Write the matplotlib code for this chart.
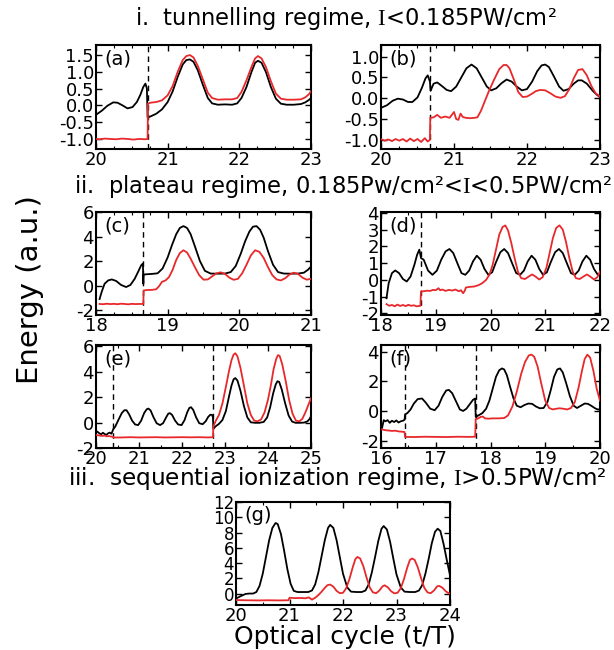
import matplotlib
matplotlib.use("Agg")
import matplotlib.pyplot as plt
from matplotlib.ticker import MultipleLocator, FormatStrFormatter

plt.rcParams['font.family'] = ['DejaVu Sans']
plt.rcParams['mathtext.fontset'] = 'custom'
plt.rcParams['mathtext.rm'] = 'Liberation Serif'
plt.rcParams['axes.unicode_minus'] = False

# ---------------- data ----------------
# (a)
a_xb = [20.00,20.08,20.16,20.24,20.30,20.37,20.44,20.51,20.57,20.62,20.66,20.69,20.71,20.72,20.76,20.84,20.92,21.00,21.07,21.14,
        21.21,21.26,21.31,21.36,21.42,21.49,21.56,21.62,21.70,21.80,21.90,21.97,22.03,22.10,22.17,22.22,22.26,22.31,22.37,22.44,
        22.51,22.58,22.66,22.76,22.86,22.92,22.97,23.00]
a_yb = [-0.28,-0.16,-0.01,0.09,0.08,0.00,-0.09,-0.05,0.10,0.32,0.55,0.65,0.50,-0.36,-0.33,-0.25,-0.12,0.10,0.42,0.85,
        1.22,1.35,1.37,1.30,1.05,0.62,0.22,0.06,0.02,0.03,0.02,0.06,0.22,0.55,1.00,1.27,1.33,1.27,1.00,0.55,
        0.20,0.05,0.02,0.02,0.04,0.09,0.16,0.22]
a_xr = [20.00,20.05,20.12,20.20,20.28,20.36,20.44,20.52,20.60,20.68,20.72,20.725,20.76,20.84,20.92,21.00,21.07,21.14,21.21,21.26,
        21.31,21.36,21.42,21.49,21.56,21.62,21.70,21.80,21.90,21.97,22.03,22.10,22.17,22.22,22.26,22.31,22.37,22.44,22.51,22.58,
        22.66,22.76,22.86,22.92,22.97,23.00]
a_yr = [-1.00,-1.01,-0.99,-1.00,-1.01,-0.99,-1.00,-1.02,-1.00,-1.01,-1.00,0.05,0.08,0.10,0.15,0.30,0.58,1.00,1.35,1.47,
        1.50,1.43,1.18,0.78,0.38,0.22,0.17,0.18,0.18,0.22,0.40,0.75,1.15,1.40,1.47,1.40,1.15,0.72,0.35,0.20,
        0.17,0.17,0.18,0.24,0.33,0.42]
# (b)
b_xb = [20.00,20.08,20.16,20.23,20.30,20.37,20.43,20.50,20.56,20.61,20.64,20.67,20.68,20.72,20.77,20.83,20.90,20.96,21.03,21.10,
        21.17,21.24,21.31,21.38,21.45,21.51,21.58,21.65,21.72,21.79,21.86,21.93,22.00,22.07,22.14,22.20,22.25,22.30,22.37,22.44,
        22.50,22.57,22.64,22.70,22.75,22.82,22.90,22.96,23.00]
b_yb = [-0.23,-0.17,-0.06,-0.01,-0.03,-0.09,-0.09,0.02,0.25,0.48,0.55,0.40,0.18,0.35,0.38,0.30,0.20,0.17,0.28,0.50,
        0.72,0.81,0.72,0.50,0.28,0.19,0.24,0.36,0.45,0.40,0.28,0.19,0.22,0.40,0.65,0.79,0.81,0.75,0.52,0.28,
        0.18,0.22,0.35,0.43,0.43,0.35,0.18,0.08,0.03]
b_xr = [20.00,20.05,20.10,20.15,20.20,20.25,20.30,20.35,20.40,20.45,20.50,20.55,20.60,20.64,20.67,20.675,20.72,20.77,20.82,20.88,
        20.94,21.00,21.03,21.06,21.09,21.12,21.16,21.22,21.28,21.32,21.37,21.42,21.48,21.55,21.62,21.68,21.72,21.76,21.82,21.88,
        21.94,22.00,22.06,22.12,22.18,22.25,22.32,22.39,22.46,22.52,22.58,22.64,22.70,22.76,22.82,22.88,22.94,23.00]
b_yr = [-0.98,-1.02,-0.99,-1.03,-0.98,-1.02,-0.98,-1.04,-0.97,-1.03,-0.98,-1.05,-0.96,-1.04,-1.00,-0.47,-0.46,-0.40,-0.47,-0.44,
        -0.47,-0.33,-0.50,-0.52,-0.37,-0.45,-0.47,-0.48,-0.47,-0.46,-0.30,-0.08,0.18,0.45,0.70,0.80,0.80,0.72,0.45,0.15,
        0.03,0.04,0.10,0.17,0.20,0.19,0.12,0.04,0.01,0.05,0.22,0.48,0.68,0.70,0.55,0.30,0.12,0.04]
# (c)
c_xb = [18.05,18.08,18.12,18.17,18.22,18.28,18.35,18.42,18.48,18.54,18.59,18.63,18.655,18.66,18.665,18.70,18.78,18.86,18.93,19.00,
        19.06,19.12,19.17,19.22,19.27,19.32,19.38,19.45,19.52,19.60,19.70,19.80,19.88,19.95,20.02,20.08,20.14,20.19,20.24,20.29,
        20.34,20.40,20.47,20.54,20.62,20.72,20.82,20.90,20.96,21.00]
c_yb = [-1.1,-0.5,0.15,0.42,0.50,0.38,0.05,-0.12,0.05,0.55,1.15,1.65,1.80,0.15,0.90,0.92,0.95,1.00,1.40,2.30,
        3.30,4.20,4.70,4.85,4.70,4.20,3.20,2.00,1.20,0.98,0.97,0.98,1.10,1.60,2.60,3.60,4.40,4.80,4.85,4.55,
        3.90,2.80,1.70,1.10,0.98,0.97,0.98,1.05,1.30,1.55]
c_xr = [18.05,18.10,18.15,18.20,18.25,18.30,18.35,18.40,18.45,18.50,18.55,18.60,18.66,18.665,18.72,18.78,18.84,18.88,18.92,18.97,
        19.02,19.07,19.12,19.17,19.22,19.27,19.32,19.38,19.44,19.50,19.56,19.62,19.68,19.74,19.80,19.86,19.92,19.98,20.04,20.10,
        20.16,20.22,20.28,20.34,20.40,20.46,20.52,20.58,20.64,20.70,20.76,20.82,20.88,20.94,21.00]
c_yr = [-1.50,-1.52,-1.48,-1.51,-1.49,-1.52,-1.48,-1.50,-1.53,-1.49,-1.51,-1.50,-1.50,-0.40,-0.36,-0.35,-0.30,-0.05,0.30,0.42,
        0.70,1.30,2.10,2.65,2.88,2.70,2.20,1.50,0.85,0.48,0.50,0.75,1.00,1.08,0.95,0.65,0.47,0.55,1.00,1.70,
        2.45,2.88,2.75,2.25,1.50,0.85,0.50,0.42,0.60,0.90,1.05,0.95,0.65,0.48,0.55]
# (d)
d_xb = [18.10,18.14,18.20,18.26,18.33,18.40,18.47,18.54,18.61,18.66,18.70,18.725,18.73,18.78,18.86,18.94,19.02,19.10,19.18,19.25,
        19.32,19.40,19.47,19.54,19.61,19.68,19.75,19.82,19.89,19.96,20.03,20.10,20.18,20.25,20.32,20.40,20.47,20.54,20.61,20.68,
        20.75,20.82,20.89,20.96,21.03,21.10,21.18,21.25,21.32,21.40,21.47,21.54,21.61,21.68,21.75,21.82,21.89,21.96,22.00]
d_yb = [-1.10,-0.20,0.40,0.56,0.40,0.05,-0.10,0.20,0.90,1.50,1.80,1.40,1.30,1.20,0.55,0.30,0.55,1.20,1.70,1.84,
        1.60,0.95,0.40,0.30,0.55,1.10,1.44,1.20,0.65,0.30,0.45,1.05,1.65,1.84,1.60,0.95,0.40,0.30,0.55,1.10,
        1.44,1.20,0.65,0.30,0.45,1.05,1.65,1.84,1.60,0.95,0.40,0.30,0.55,1.10,1.44,1.20,0.65,0.30,0.25]
d_xr = [18.10,18.15,18.20,18.25,18.30,18.35,18.40,18.45,18.50,18.55,18.60,18.65,18.72,18.73,18.78,18.84,18.90,18.95,19.00,19.05,
        19.08,19.12,19.18,19.24,19.30,19.36,19.42,19.46,19.50,19.53,19.55,19.62,19.70,19.78,19.85,19.92,19.98,20.04,20.10,20.16,
        20.22,20.27,20.32,20.38,20.44,20.50,20.56,20.63,20.70,20.76,20.82,20.89,20.95,21.02,21.08,21.14,21.20,21.26,21.32,21.38,
        21.44,21.50,21.56,21.63,21.70,21.76,21.82,21.89,21.95,22.00]
d_yr = [-1.45,-1.55,-1.50,-1.58,-1.48,-1.56,-1.50,-1.57,-1.49,-1.55,-1.52,-1.58,-1.55,-0.70,-0.68,-0.65,-0.66,-0.60,-0.62,-0.50,
        -0.62,-0.58,-0.66,-0.60,-0.64,-0.58,-0.68,-0.62,-0.80,-0.65,-0.46,-0.42,-0.40,-0.32,-0.20,0.00,0.30,0.90,1.80,2.70,
        3.15,3.25,2.95,2.20,1.30,0.50,0.10,0.05,0.20,0.32,0.20,0.02,0.15,0.70,1.60,2.50,3.10,3.25,3.00,2.25,
        1.30,0.50,0.10,0.05,0.20,0.32,0.20,0.02,0.15,0.50]
# (e)
e_xb = [20.00,20.04,20.08,20.12,20.16,20.20,20.24,20.28,20.32,20.36,20.40,20.45,20.52,20.60,20.66,20.71,20.77,20.84,20.91,20.98,
        21.05,21.12,21.18,21.22,21.27,21.34,21.41,21.49,21.56,21.63,21.68,21.72,21.77,21.84,21.91,21.99,22.06,22.12,22.17,22.21,
        22.26,22.33,22.40,22.48,22.55,22.61,22.66,22.70,22.72,22.73,22.78,22.86,22.94,23.02,23.09,23.15,23.20,23.24,23.29,23.36,
        23.44,23.52,23.60,23.70,23.80,23.90,23.98,24.05,24.12,24.18,24.22,24.26,24.32,24.40,24.48,24.56,24.64,24.74,24.84,24.92,
        24.97,25.00]
e_yb = [-0.66,-0.74,-0.85,-0.92,-0.80,-0.90,-0.97,-0.85,-0.79,-0.88,-0.53,-0.30,0.20,0.75,0.97,0.97,0.65,0.15,-0.15,-0.20,
        0.15,0.75,1.05,1.10,0.95,0.40,-0.05,-0.20,-0.05,0.40,0.70,0.74,0.60,0.15,-0.15,-0.20,0.20,0.80,1.15,1.21,
        1.00,0.40,-0.05,-0.13,0.10,0.45,0.62,0.60,0.40,-0.50,-0.30,-0.10,0.20,0.90,2.00,2.90,3.40,3.50,3.30,2.50,
        1.30,0.40,0.02,-0.02,-0.02,0.05,0.40,1.20,2.30,3.00,3.25,3.20,2.60,1.50,0.55,0.08,-0.02,-0.02,0.00,0.10,
        0.30,0.50]
e_xr = [20.00,20.05,20.10,20.15,20.20,20.25,20.30,20.35,20.40,20.41,20.60,20.80,21.00,21.20,21.40,21.60,21.80,22.00,22.20,22.40,
        22.60,22.72,22.73,22.78,22.86,22.94,23.02,23.09,23.15,23.20,23.24,23.29,23.36,23.44,23.52,23.60,23.68,23.76,23.84,23.92,
        24.00,24.07,24.13,24.19,24.23,24.27,24.33,24.41,24.49,24.57,24.65,24.73,24.80,24.87,24.94,25.00]
e_yr = [-0.98,-1.00,-1.03,-1.05,-1.02,-1.08,-1.06,-1.10,-1.12,-1.18,-1.17,-1.15,-1.17,-1.16,-1.15,-1.17,-1.16,-1.15,-1.16,-1.15,
        -1.17,-1.15,-0.30,0.10,0.60,1.50,2.80,4.00,4.90,5.35,5.45,5.20,4.30,2.90,1.50,0.60,0.15,0.10,0.25,0.80,
        1.80,3.00,4.20,5.00,5.30,5.25,4.60,3.30,1.80,0.70,0.15,0.10,0.30,0.80,1.40,1.90]
# (f)
f_xb = [16.02,16.05,16.08,16.12,16.16,16.20,16.24,16.28,16.32,16.36,16.40,16.43,16.44,16.48,16.54,16.60,16.67,16.75,16.82,16.90,
        16.98,17.05,17.12,17.19,17.24,17.30,17.37,17.44,17.50,17.56,17.62,17.68,17.72,17.73,17.78,17.85,17.92,17.98,18.04,18.10,
        18.16,18.21,18.25,18.30,18.36,18.42,18.48,18.55,18.62,18.69,18.76,18.83,18.90,18.97,19.04,19.10,19.16,19.22,19.27,19.32,
        19.38,19.45,19.52,19.58,19.65,19.72,19.78,19.84,19.91,19.96,20.00]
f_yb = [-1.13,-0.62,-0.70,-0.62,-0.80,-0.66,-0.75,-0.64,-0.78,-0.70,-0.66,-0.60,-0.23,-0.15,0.10,0.50,0.80,0.84,0.55,0.15,
        0.05,0.35,0.95,1.38,1.42,1.20,0.65,0.10,0.00,0.15,0.45,0.75,0.84,-0.40,-0.30,-0.15,0.15,0.70,1.50,2.30,
        2.75,2.87,2.80,2.40,1.60,0.85,0.35,0.25,0.40,0.50,0.48,0.30,0.18,0.20,0.60,1.40,2.30,2.80,2.87,2.60,
        1.90,1.00,0.35,0.20,0.35,0.50,0.48,0.35,0.18,0.10,0.10]
f_xr = [16.02,16.08,16.14,16.20,16.26,16.32,16.38,16.43,16.44,16.60,16.80,17.00,17.20,17.40,17.60,17.72,17.73,17.78,17.82,17.86,
        17.90,17.96,18.05,18.15,18.25,18.32,18.40,18.48,18.56,18.63,18.70,18.75,18.80,18.86,18.93,19.00,19.07,19.14,19.20,19.26,
        19.33,19.40,19.47,19.54,19.61,19.67,19.72,19.77,19.82,19.88,19.94,20.00]
f_yr = [-1.25,-1.30,-1.32,-1.35,-1.33,-1.38,-1.40,-1.42,-1.75,-1.76,-1.74,-1.75,-1.76,-1.74,-1.75,-1.74,-0.55,-0.50,-0.40,-0.38,
        -0.50,-0.52,-0.50,-0.50,-0.48,-0.30,0.30,1.30,2.50,3.30,3.75,3.80,3.65,3.00,1.80,0.70,0.20,0.10,0.15,0.18,
        0.15,0.10,0.20,0.60,1.60,2.70,3.50,3.80,3.60,2.70,1.50,0.70]
# (g)
g_xb = [20.00,20.10,20.18,20.25,20.32,20.38,20.44,20.50,20.56,20.62,20.68,20.74,20.78,20.84,20.90,20.96,21.02,21.08,21.15,21.25,
        21.35,21.42,21.48,21.54,21.60,21.66,21.72,21.76,21.82,21.88,21.94,22.00,22.08,22.15,22.25,22.35,22.42,22.48,22.54,22.60,
        22.66,22.72,22.76,22.82,22.88,22.94,23.00,23.08,23.15,23.25,23.35,23.42,23.48,23.54,23.60,23.66,23.72,23.77,23.82,23.88,
        23.94,24.00]
g_yb = [-0.65,-0.30,-0.05,0.00,0.00,0.20,1.00,2.60,4.80,7.00,8.60,9.25,9.10,7.80,5.60,3.20,1.30,0.35,0.20,0.20,
        0.20,0.40,1.20,2.80,4.90,7.00,8.60,9.00,8.60,7.00,4.80,2.60,0.80,0.25,0.20,0.20,0.40,1.20,2.80,4.80,
        6.90,8.50,8.85,8.40,6.80,4.60,2.50,0.80,0.25,0.20,0.20,0.40,1.10,2.60,4.50,6.60,8.10,8.50,8.20,6.50,
        4.40,2.40]
g_xr = [20.00,20.20,20.40,20.60,20.80,20.98,21.00,21.10,21.20,21.30,21.36,21.42,21.48,21.54,21.60,21.66,21.71,21.76,21.82,21.88,
        21.94,22.00,22.06,22.12,22.18,22.23,22.27,22.32,22.38,22.44,22.50,22.56,22.62,22.68,22.74,22.78,22.84,22.90,22.96,23.02,
        23.08,23.14,23.20,23.25,23.29,23.34,23.40,23.46,23.52,23.58,23.64,23.70,23.76,23.80,23.86,23.92,23.98,24.00]
g_yr = [-0.85,-0.88,-0.90,-0.88,-0.90,-0.88,-0.55,-0.60,-0.58,-0.62,-0.50,-0.80,-0.55,-0.20,0.25,0.75,1.10,1.18,0.90,0.35,
        0.05,0.10,0.70,1.90,3.40,4.50,4.80,4.60,3.60,2.10,0.80,0.15,0.05,0.40,0.95,1.08,0.80,0.30,0.02,0.10,
        0.70,1.90,3.40,4.40,4.60,4.40,3.40,2.00,0.75,0.15,0.05,0.40,0.95,1.00,0.75,0.30,0.02,0.00]

panel_labels = ['(a)', '(b)', '(c)', '(d)', '(e)', '(f)', '(g)']
dashed_x = [[20.72], [20.675], [18.66], [18.73], [20.40, 22.73], [16.44, 17.735], []]
xlims = [(20, 23), (20, 23), (18, 21), (18, 22), (20, 25), (16, 20), (20, 24)]
ylims = [(-1.3, 1.8), (-1.22, 1.28), (-2.4, 6.0), (-2.1, 4.05), (-2.0, 6.1), (-2.5, 4.45), (-1.5, 12.0)]
ymajor = [0.5, 0.5, 2, 1, 2, 2, 2]
yfmt = ['%.1f', '%.1f', '%d', '%d', '%d', '%d', '%d']
xminor = [0.25, 0.25, 0.25, 0.5, 0.5, 0.5, 0.5]
titles = ['i.  tunnelling regime, $\\mathrm{I}$<0.185PW/cm\u00b2',
          'ii.  plateau regime, 0.185Pw/cm\u00b2<$\\mathrm{I}$<0.5PW/cm\u00b2',
          'iii.  sequential ionization regime, $\\mathrm{I}$>0.5PW/cm\u00b2']

curves = [(a_xb, a_yb, a_xr, a_yr), (b_xb, b_yb, b_xr, b_yr), (c_xb, c_yb, c_xr, c_yr),
          (d_xb, d_yb, d_xr, d_yr), (e_xb, e_yb, e_xr, e_yr), (f_xb, f_yb, f_xr, f_yr),
          (g_xb, g_yb, g_xr, g_yr)]

# ---------------- layout (pixels in a 614x650 figure) ----------------
W, H = 614.0, 650.0
boxes = [(96, 45, 311, 149), (381, 45, 600, 149),
         (96, 212, 311, 315), (381, 212, 600, 315),
         (96, 345, 311, 448), (381, 345, 600, 448),
         (236, 502, 450, 605)]
ytick_fs = [13, 13, 13, 13, 13, 13, 12]

fig = plt.figure(figsize=(6.14, 6.5), dpi=100)
RED = '#e8282b'

for i, (l, t, r, b) in enumerate(boxes):
    ax = fig.add_axes([l / W, 1 - b / H, (r - l) / W, (b - t) / H])
    xb, yb, xr, yr = curves[i]
    ax.plot(xb, yb, color='black', lw=1.3, zorder=3)
    ax.plot(xr, yr, color=RED, lw=1.3, zorder=4)
    for dx in dashed_x[i]:
        ax.axvline(dx, color='black', lw=1.0, ls=(0, (4, 3)), zorder=2)
    ax.set_xlim(*xlims[i])
    ax.set_ylim(*ylims[i])
    ax.xaxis.set_major_locator(MultipleLocator(1))
    ax.xaxis.set_minor_locator(MultipleLocator(xminor[i]))
    ax.yaxis.set_major_locator(MultipleLocator(ymajor[i]))
    ax.yaxis.set_major_formatter(FormatStrFormatter(yfmt[i]))
    ax.tick_params(which='both', direction='in', top=True, right=True)
    ax.tick_params(axis='x', labelsize=13, pad=1.5)
    ax.tick_params(axis='y', labelsize=ytick_fs[i], pad=1.5)
    ax.tick_params(which='major', length=4, width=1.0)
    ax.tick_params(which='minor', length=2, width=0.8)
    for s in ax.spines.values():
        s.set_linewidth(1.5)
    ax.text(0.04, 0.96, panel_labels[i], transform=ax.transAxes, ha='left', va='top', fontsize=14, zorder=5)

fig.text(346 / W, 1 - 19 / H, titles[0], ha='center', va='center', fontsize=16.3)
fig.text(343 / W, 1 - 187 / H, titles[1], ha='center', va='center', fontsize=16.3)
fig.text(337 / W, 1 - 479 / H, titles[2], ha='center', va='center', fontsize=16.7)
fig.text(30 / W, 1 - 290 / H, 'Energy (a.u.)', rotation=90, ha='center', va='center', fontsize=21)
fig.text(345 / W, 1 - 644 / H, 'Optical cycle (t/T)', ha='center', va='baseline', fontsize=18)

fig.savefig('out.png', dpi=100)
